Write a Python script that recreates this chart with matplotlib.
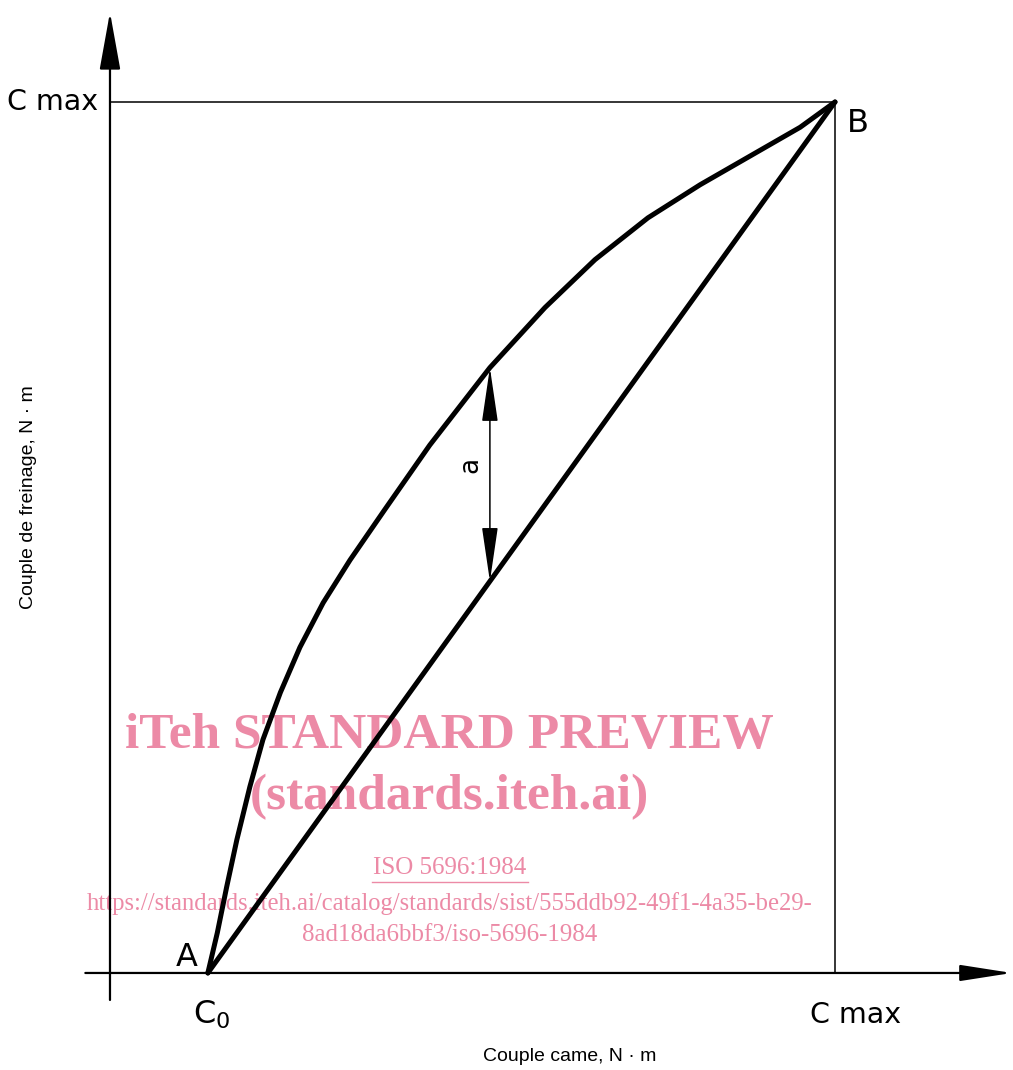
import numpy as np
import matplotlib
matplotlib.use('Agg')
import matplotlib.pyplot as plt

# Torques as a fraction of C max (x: couple came, y: couple de freinage)
c0 = 0.135
cmax = 1.0

# Measured braking torque curve from A (C0, 0) to B (Cmax, Cmax)
x_curve = [0.135, 0.148, 0.161, 0.175, 0.193, 0.211, 0.235, 0.262, 0.294, 0.331,
           0.379, 0.441, 0.524, 0.600, 0.669, 0.742, 0.814, 0.883, 0.952, 1.0]
y_curve = [0.000, 0.046, 0.099, 0.153, 0.214, 0.268, 0.322, 0.374, 0.425, 0.474,
           0.532, 0.606, 0.695, 0.764, 0.819, 0.867, 0.905, 0.938, 0.971, 1.0]

# Straight reference line A-B
x_line = [c0, cmax]
y_line = [0.0, cmax]

# Position of the deviation "a"
x_a = 0.524

fig = plt.figure(figsize=(10.13, 10.70), dpi=100)
ax = fig.add_axes([0, 0, 1, 1])
ax.set_xlim(-0.1517, 1.2455)
ax.set_ylim(-0.1114, 1.1171)
ax.axis('off')

ink = 'black'
pink = '#ec8aa6'

# axes with arrow heads
ax.annotate('', xy=(0, 1.103), xytext=(0, -0.031),
            arrowprops=dict(arrowstyle='-|>,head_length=3.6,head_width=0.65',
                            mutation_scale=10, lw=1.6, color=ink,
                            shrinkA=0, shrinkB=0))
ax.annotate('', xy=(1.244, 0), xytext=(-0.034, 0),
            arrowprops=dict(arrowstyle='-|>,head_length=3.2,head_width=0.5',
                            mutation_scale=10, lw=1.6, color=ink,
                            shrinkA=0, shrinkB=0))

# C max box
ax.plot([0, cmax], [cmax, cmax], color=ink, lw=1.1)
ax.plot([cmax, cmax], [0, cmax], color=ink, lw=1.1)

# curve and straight line
ax.plot(x_curve, y_curve, color=ink, lw=3.6, solid_capstyle='round',
        solid_joinstyle='round', zorder=5)
ax.plot(x_line, y_line, color=ink, lw=3.6, solid_capstyle='round', zorder=5)

# deviation arrow a between curve and line
y_top = np.interp(x_a, x_curve, y_curve)
y_bot = (x_a - c0) / (cmax - c0) * cmax
ax.annotate('', xy=(x_a, y_top), xytext=(x_a, y_bot),
            arrowprops=dict(arrowstyle='<|-|>,head_length=3.4,head_width=0.5',
                            mutation_scale=10, lw=1.1, color=ink,
                            shrinkA=0, shrinkB=0))
ax.text(x_a - 0.027, 0.583, 'a', rotation=90,
        ha='center', va='center', fontsize=19, color=ink)

# point and tick labels
lab = dict(fontsize=23, color=ink, family='DejaVu Sans')
cm = dict(fontsize=20.5, color=ink, family='DejaVu Sans')
ax.text(-0.017, cmax, 'C max', ha='right', va='center', **cm)
ax.text(1.029, -0.048, 'C max', ha='center', va='center', **cm)
ax.text(1.017, 0.975, 'B', ha='left', va='center', **lab)
ax.text(0.106, 0.018, 'A', ha='center', va='center', **lab)
ax.text(c0 + 0.005, -0.048, r'C$_\mathregular{0}$', ha='center', va='center', **lab)

# axis titles
ax.text(0.634, -0.096, 'Couple came, N · m', ha='center', va='center',
        fontsize=14, family='Liberation Sans')
ax.text(-0.113, 0.546, 'Couple de freinage, N · m', ha='center', va='center',
        rotation=90, fontsize=14, family='Liberation Sans')

# watermark
wm = dict(ha='center', va='center', family='Liberation Serif', color=pink, zorder=1)
ax.text(0.468, 0.272, 'iTeh STANDARD PREVIEW', fontsize=37, fontweight='bold', **wm)
ax.text(0.468, 0.202, '(standards.iteh.ai)', fontsize=37, fontweight='bold', **wm)
ax.text(0.468, 0.1206, 'ISO 5696:1984', fontsize=18, **wm)
ax.plot([0.362, 0.577], [0.104, 0.104], color=pink, lw=1, zorder=1)
ax.text(0.468, 0.080,
        'https://standards.iteh.ai/catalog/standards/sist/555ddb92-49f1-4a35-be29-',
        fontsize=17.7, **wm)
ax.text(0.468, 0.0436, '8ad18da6bbf3/iso-5696-1984', fontsize=18, **wm)

fig.savefig('out.png', dpi=100)
